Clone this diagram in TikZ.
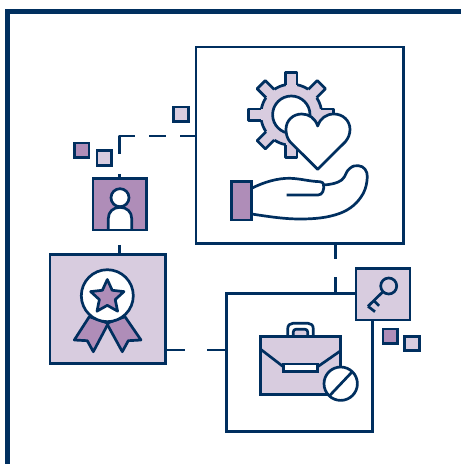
\documentclass[tikz,border=0pt]{standalone}
\usetikzlibrary{calc,positioning,shapes.geometric}
\definecolor{CardInk}{HTML}{002F5F}
\definecolor{CardPale}{HTML}{D8CCDF}
\definecolor{CardPlum}{HTML}{AF8DB8}
\begin{document}
\begin{tikzpicture}[
    x=1pt,y=-1pt,
    line join=round,
    ink/.style={draw=CardInk,line width=2.7pt},
    panel/.style={ink,line join=miter,rectangle,inner sep=0pt,outer sep=0pt},
    chip/.style={panel,minimum size=14.5pt},
    link/.style={ink}
  ]
  \useasboundingbox (0,0) rectangle (461,464);
  \draw[draw=CardInk,line width=4.8pt,line join=miter] (461,11.5) -- (7.5,11.5) -- (7.5,464);

  \node[panel,fill=white,minimum width=207.5pt,minimum height=196.5pt] (care) at (299.7,145.2) {};
  \node[panel,fill=white,minimum width=146pt,minimum height=138.5pt] (brief) at (299.7,362.5) {};
  \node[panel,fill=CardPlum,minimum width=53.5pt,minimum height=51.5pt] (person) at (119.7,204.2) {};
  \node[panel,fill=CardPale,minimum width=115.3pt,minimum height=109pt] (award) at (107.7,308.8) {};
  \node[panel,fill=CardPale,minimum width=54pt,minimum height=51.5pt] (key) at (383,294.3) {};

  \node[chip,fill=CardPale] (chipa) at (181,114.3) {};
  \node[chip,fill=CardPlum] (chipb) at (81.7,150.2) {};
  \node[chip,fill=CardPale] (chipc) at (104.2,158) {};
  \node[chip,fill=CardPlum] (chipd) at (390.3,336.3) {};
  \node[chip,fill=CardPale] (chipe) at (412,343.5) {};

  \draw[link,dash pattern=on 16pt off 14pt on 17pt off 14pt on 33pt off 20pt on 10pt]
    ([yshift=9.2pt]care.west) -| (person.north);
  \draw[link,dash pattern=on 0pt off 15pt on 12pt]
    (person.south) -- (person.south |- award.north);
  \draw[link,dash pattern=on 20pt off 22pt on 22pt]
    ([yshift=-41.2pt]award.east) -- ([yshift=-41.2pt]award.east -| brief.west);
  \draw[link,dash pattern=on 16pt off 18pt on 18pt]
    ([xshift=35.5pt]care.south) -- ([xshift=35.5pt]care.south |- brief.north);

  % gear
  \draw[ink,fill=CardPale] (291.3,114.7) circle (30.5);
  \foreach \a in {0,45,...,315} {
    \fill[CardPale,rotate around={\a:(291.3,114.7)}] (319,109) rectangle (333.8,120.4);
    \draw[ink,fill=CardPale,rotate around={\a:(291.3,114.7)}]
      (321.3,108.9) -- (333.8,108.9) -- (333.8,120.5) -- (321.3,120.5);
  }
  \fill[CardPale] (291.3,114.7) circle (28);
  \draw[ink,fill=white] (291.3,114.7) circle (18.7);

  % heart
  \draw[ink,fill=white] (317.7,169.3) -- (290,141.7)
    .. controls (287,138) and (286,134) .. (286,129.3)
    .. controls (286,120.5) and (293,114) .. (301.7,114)
    .. controls (309,114) and (315,118) .. (317.7,126)
    .. controls (320.4,118) and (326.4,114) .. (334,114)
    .. controls (342.7,114) and (350,120.5) .. (350,129.3)
    .. controls (350,134) and (348.4,138) .. (345.4,141.7) -- cycle;

  % hand
  \draw[ink,fill=white] (251.7,188.3)
    .. controls (264,182) and (278,178) .. (290,178.3)
    .. controls (300,178.5) and (310,181.5) .. (320,181.7)
    .. controls (322,181.8) and (323.5,183) .. (324,185)
    .. controls (330,184.5) and (337,183.5) .. (341.7,180)
    .. controls (346,176.5) and (346,170.5) .. (350,168.3)
    .. controls (353,165.7) and (355,165.5) .. (358.3,165.7)
    .. controls (364,166) and (367.5,171) .. (367.3,176.7)
    .. controls (367,183) and (366,188) .. (363.3,193.3)
    .. controls (358,203) and (350,209.5) .. (340,213.3)
    .. controls (327,218) and (314,219) .. (300,219)
    .. controls (284,219) and (268,216.5) .. (251.7,214);
  \draw[ink] (286.7,195) -- (318,195)
    .. controls (322.5,195) and (324.5,190) .. (323.5,184);
  \draw[ink,line join=miter,fill=CardPlum] (231.7,181.7) rectangle (251.7,220);

  % person
  \draw[ink,fill=white] (108.3,228.9) -- (108.3,218.5)
    .. controls (108.3,212) and (113,207.3) .. (120,207.3)
    .. controls (127,207.3) and (131.7,212) .. (131.7,218.5) -- (131.7,228.9);
  \draw[ink,fill=white] (120,197.7) circle (9);

  % rosette
  \draw[ink,fill=CardPlum] (125,316.7) -- (141,340) -- (128.3,340.7) -- (122.3,351.7) -- (106.7,323.3) -- cycle;
  \draw[ink,fill=CardPlum] (89.3,316.7) -- (74.3,340) -- (87.3,340.7) -- (93.3,351.7) -- (108.3,323.3) -- cycle;
  \draw[ink,fill=white] (107.3,295.7) circle (26);
  \node[ink,fill=CardPlum,star,star points=5,star point ratio=2.1,inner sep=0pt,
    minimum size=35pt,line join=round] (rosette) at (107.3,297) {};

  % briefcase
  \draw[ink,fill=white] (287.7,336.7) -- (287.7,329)
    .. controls (287.7,325) and (290,323.3) .. (293,323.3) -- (308,323.3)
    .. controls (311,323.3) and (313.3,325) .. (313.3,329) -- (313.3,336.7);
  \draw[ink,fill=CardPale] (293.3,336.7) -- (293.3,332)
    .. controls (293.3,330) and (294.5,329.3) .. (296,329.3) -- (305,329.3)
    .. controls (306.5,329.3) and (307.7,330) .. (307.7,332) -- (307.7,336.7);
  \draw[ink,fill=CardPale,line join=miter] (260.7,336.7) rectangle (340.7,394.7);
  \draw[ink] (260.7,349.3) -- (283.3,366.7);
  \draw[ink] (340.7,350.7) -- (317.7,366.7);
  \draw[ink,fill=white,line join=miter] (283.7,364) rectangle (317.7,371.3);
  \draw[ink,fill=white] (340.7,383.7) circle (16.7);
  \draw[ink] (329.3,396) -- (352,372);

  % key
  \draw[ink] (383.2,291.5) -- (368,306.3);
  \draw[ink,fill=none] (388.7,286) circle (8);
  \draw[ink] (373.5,300.3) -- (379,305.8);
  \draw[ink] (368,306.3) -- (375,311.7);
\end{tikzpicture}
\end{document}
